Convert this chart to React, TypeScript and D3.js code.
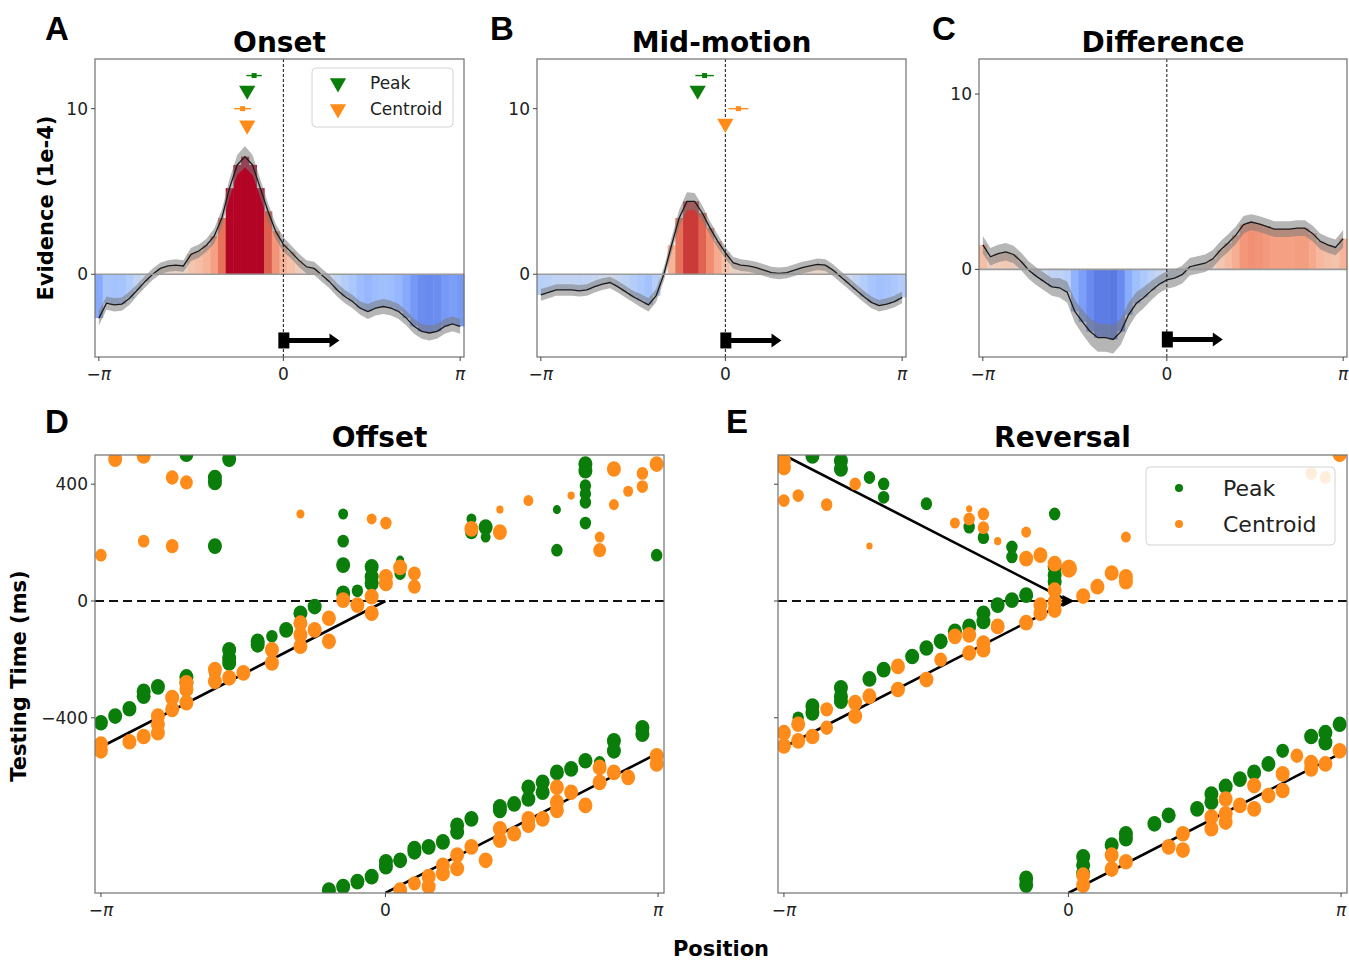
import * as d3 from 'd3';
import * as React from 'react';
import { useEffect, useRef } from 'react';

const W = 1349;
const H = 960;

// x axis is 48 position bins, ticks at -pi / 0 / pi
const tickBins = [0, 24, 47];
const tickNames = ['-', '0', '+'];

// evidence (1e-4) per position bin
const onsetValues = [-2.65, -1.75, -1.85, -1.8, -1.45, -0.95, -0.45, 0.0, 0.35, 0.5, 0.55, 0.5, 1.2, 1.4, 1.75, 2.3,
  3.4, 5.2, 6.6, 7.1, 6.6, 5.2, 3.8, 2.6, 1.8, 1.35, 0.85, 0.45, 0.35, -0.05, -0.45, -0.95,
  -1.35, -1.65, -2.05, -2.25, -2.05, -1.95, -2.05, -2.25, -2.65, -3.15, -3.45, -3.55, -3.45, -3.15, -3.0, -3.15];
const onsetSE = [0.45, 0.4, 0.4, 0.4, 0.4, 0.35, 0.35, 0.35, 0.35, 0.35, 0.35, 0.35, 0.4, 0.4, 0.4, 0.45,
  0.5, 0.55, 0.6, 0.65, 0.6, 0.55, 0.5, 0.45, 0.45, 0.4, 0.4, 0.4, 0.4, 0.4, 0.4, 0.4,
  0.4, 0.4, 0.4, 0.45, 0.45, 0.45, 0.45, 0.45, 0.45, 0.45, 0.45, 0.45, 0.45, 0.45, 0.45, 0.45];

const midValues = [-1.25, -1.1, -0.95, -0.95, -0.95, -1.0, -0.95, -0.75, -0.6, -0.5, -0.75, -1.05, -1.35, -1.6, -1.85, -1.3,
  0.0, 1.75, 3.4, 4.4, 4.4, 3.7, 2.8, 2.0, 1.3, 0.7, 0.55, 0.5, 0.4, 0.25, 0.1, 0.05,
  0.1, 0.25, 0.4, 0.5, 0.6, 0.55, 0.25, -0.15, -0.55, -0.95, -1.35, -1.7, -1.9, -1.8, -1.65, -1.4];
const midSE = [0.35, 0.35, 0.35, 0.35, 0.35, 0.35, 0.35, 0.35, 0.35, 0.35, 0.35, 0.35, 0.35, 0.4, 0.4, 0.4,
  0.4, 0.45, 0.5, 0.55, 0.5, 0.45, 0.4, 0.4, 0.35, 0.35, 0.35, 0.35, 0.35, 0.35, 0.35, 0.35,
  0.35, 0.35, 0.35, 0.35, 0.35, 0.35, 0.35, 0.35, 0.35, 0.35, 0.35, 0.35, 0.35, 0.35, 0.35, 0.35];

const diffValues = [1.4, 0.72, 0.9, 1.0, 0.85, 0.45, -0.05, -0.4, -0.7, -1.0, -1.05, -1.3, -2.4, -3.0, -3.55, -3.9,
  -3.9, -4.0, -3.55, -2.6, -1.95, -1.6, -1.2, -0.85, -0.6, -0.5, -0.3, 0.15, 0.25, 0.35, 0.6, 1.1,
  1.5, 1.95, 2.55, 2.7, 2.6, 2.45, 2.3, 2.3, 2.3, 2.35, 2.35, 2.05, 1.6, 1.4, 1.25, 1.75];
const diffSE = [0.5, 0.5, 0.5, 0.5, 0.5, 0.5, 0.5, 0.5, 0.5, 0.5, 0.55, 0.6, 0.65, 0.7, 0.75, 0.8,
  0.8, 0.8, 0.75, 0.7, 0.65, 0.6, 0.55, 0.5, 0.5, 0.5, 0.5, 0.5, 0.5, 0.5, 0.5, 0.5,
  0.5, 0.5, 0.5, 0.45, 0.45, 0.45, 0.45, 0.45, 0.45, 0.45, 0.45, 0.45, 0.45, 0.45, 0.45, 0.5];

// summary markers: [triangle bin, triangle level, point bin, point level, error half-width]
const onsetPeakMark = [19.3, 11.1, 20.2, 12.0, 1.0];
const onsetCentroidMark = [19.3, 9.0, 18.7, 10.0, 1.1];
const midPeakMark = [20.4, 11.1, 21.3, 12.0, 1.2];
const midCentroidMark = [24.0, 9.1, 25.7, 10.0, 1.3];

// scatter: [column (40 positions, -pi..pi), testing time ms, size]
const offsetPeak = [
  [0, -417, 3], [1, -394, 3], [2, -369, 3], [3, -326, 3], [3, -309, 3], [4, -294, 3], [6, -260, 3], [6, -280, 3],
  [6, 503, 3], [8, -248, 2], [8, 423, 3], [8, 406, 3], [8, 188, 3], [9, -167, 3], [9, -195, 3], [9, -212, 3],
  [9, 486, 3], [11, -138, 3], [11, -150, 3], [12, -121, 2], [13, -99, 3], [14, -42, 3], [15, -19, 3],
  [17, 26, 3], [17, 123, 3], [17, 205, 2], [17, 298, 1.5], [18, 35, 2], [19, 60, 3], [19, 83, 3], [19, 117, 3],
  [21, 140, 1], [21, 94, 2], [26, 281, 1.5], [26, 236, 2.5], [27, 253, 3], [27, 219, 1.5], [32, 313, 1],
  [32, 174, 2], [34, 469, 3], [34, 446, 3], [34, 395, 2], [34, 367, 2], [34, 338, 2], [34, 267, 2], [39, 157, 2],
  [16, -990, 3], [17, -978, 3], [18, -961, 3], [19, -944, 3], [20, -910, 3], [20, -893, 3], [21, -888, 3],
  [22, -859, 3], [22, -848, 3], [23, -842, 3], [24, -825, 3], [25, -768, 3], [25, -791, 3], [26, -746, 3],
  [28, -717, 3], [28, -705, 3], [29, -695, 3], [30, -678, 3], [30, -638, 3], [31, -621, 3], [31, -655, 3],
  [32, -587, 3], [33, -575, 3], [34, -547, 3], [35, -553, 2], [36, -479, 3], [36, -513, 3], [38, -434, 3], [38, -456, 3],
];
const offsetCentroid = [
  [0, -490, 3], [0, -513, 3], [0, 157, 2], [1, 486, 3], [2, -482, 3], [3, -464, 3], [3, 497, 3], [3, 205, 2],
  [4, -394, 3], [4, -422, 3], [4, -451, 3], [5, -371, 3], [5, -331, 3], [5, 423, 2.5], [5, 188, 2.5],
  [6, -280, 3], [6, -303, 3], [6, -348, 3], [6, 406, 2.5], [8, -235, 3], [8, -275, 3], [9, -263, 3], [10, -246, 3],
  [12, -167, 3], [12, -212, 3], [14, -76, 3], [14, -116, 3], [14, -155, 3], [14, 298, 1], [15, -99, 3],
  [16, -59, 3], [16, -138, 3], [17, 3, 3], [18, -14, 3], [19, 15, 3], [19, -42, 3], [19, 281, 1.5],
  [20, 60, 3], [20, 83, 3], [20, 267, 2], [21, 115, 3], [22, 94, 2.5], [22, 49, 2.5],
  [26, 247, 3], [28, 236, 3], [28, 313, 0.8], [30, 344, 1.5], [33, 361, 0.8], [35, 219, 1.5], [35, 174, 2.5],
  [36, 452, 3], [36, 330, 1.5], [37, 376, 1.5], [38, 437, 2], [38, 392, 2], [39, 469, 3],
  [21, -990, 3], [22, -967, 2.5], [23, -944, 3], [23, -978, 3], [24, -905, 3], [24, -933, 3], [25, -870, 3],
  [25, -916, 3], [26, -842, 3], [27, -888, 3], [28, -780, 3], [28, -819, 3], [29, -797, 3], [30, -746, 3],
  [30, -768, 3], [31, -746, 3], [32, -638, 3], [32, -689, 3], [32, -717, 3], [33, -655, 3], [34, -700, 3],
  [35, -570, 3], [35, -621, 3], [36, -587, 3], [37, -604, 3], [39, -530, 3], [39, -558, 3],
];
const reversalPeak = [
  [1, -400, 2], [2, -360, 3], [2, -383, 3], [2, 497, 3], [4, -297, 3], [4, -326, 3], [4, -343, 3], [4, 480, 3],
  [4, 452, 3], [6, -267, 3], [6, 423, 2], [7, -235, 3], [7, 401, 2], [7, 355, 2], [9, -190, 3], [10, -161, 3],
  [10, 333, 2], [11, -138, 3], [12, -104, 3], [13, -87, 3], [13, 253, 2], [14, -42, 3], [14, -70, 3], [14, 217, 2],
  [15, -14, 3], [16, 3, 3], [16, 185, 2], [16, 151, 2], [17, 20, 3], [19, 117, 3], [19, 89, 3], [19, 66, 3],
  [19, 298, 2],
  [17, -950, 3], [17, -973, 3], [21, -876, 3], [21, -905, 3], [21, -933, 3], [23, -836, 3], [24, -797, 3],
  [24, -814, 3], [26, -763, 3], [27, -734, 3], [29, -712, 3], [30, -661, 3], [30, -689, 3], [31, -635, 3],
  [32, -610, 3], [33, -587, 3], [34, -558, 3], [35, -513, 2.5], [37, -464, 3], [38, -451, 3], [38, -485, 3], [39, -422, 3],
];
const reversalCentroid = [
  [0, -451, 3], [0, -496, 3], [0, 480, 3], [0, 457, 3], [0, 344, 2], [1, -422, 3], [1, -479, 3], [1, 361, 2],
  [2, -464, 3], [3, -371, 2.5], [3, -434, 2.5], [3, 330, 2], [5, -348, 3], [5, -394, 3], [5, 401, 2],
  [6, -326, 3], [6, 188, 0.6], [8, -224, 3], [8, -303, 3], [10, -269, 3], [11, -201, 2.5], [12, -121, 3],
  [12, 267, 1.5], [13, -116, 3], [13, -178, 3], [13, 281, 2], [13, 316, 0.6], [14, -144, 3], [14, -167, 3],
  [14, 298, 2], [14, 251, 2], [15, -87, 3], [15, 205, 0.8], [17, -74, 3], [17, 236, 1.5], [17, 145, 3],
  [18, -14, 3], [18, -42, 3], [18, 157, 3], [19, 37, 3], [19, -2, 3], [19, -31, 3], [19, 128, 3], [20, 111, 4],
  [21, 17, 3], [22, 49, 3], [23, 96, 3], [24, 83, 3], [24, 66, 3], [24, 219, 1.5], [37, 437, 2], [38, 423, 2],
  [39, 503, 3],
  [21, -939, 3], [21, -973, 3], [23, -870, 3], [23, -918, 3], [24, -893, 3], [27, -842, 3], [28, -797, 3],
  [28, -853, 3], [30, -740, 3], [30, -780, 3], [31, -678, 3], [31, -729, 3], [31, -757, 3], [32, -700, 3],
  [33, -632, 3], [33, -712, 3], [34, -666, 3], [35, -592, 3], [35, -649, 3], [36, -530, 2.5], [37, -553, 3],
  [37, -575, 3], [38, -558, 3], [39, -513, 3],
];

// expected position lines: [[bin, ms], [bin, ms]]
const offsetLines = [[[0, -500], [24, 0]], [[24, -1000], [47, -521]]];
const reversalLines = [[[0, 500], [24, 0]], [[0, -500], [24, 0]], [[24, -1000], [47, -521]]];

const GREEN = '#0a7d0a';
const ORANGE = '#ff8c1a';
const FONT = 'DejaVu Sans, sans-serif';

const coolwarm = d3.interpolateRgbBasis(['#3b4cc0', '#4d68d7', '#6282ea', '#779af7', '#8db0fe', '#a3c2fe', '#b8d0f9',
  '#cbd8ee', '#dddddd', '#ecd3c5', '#f5c4ac', '#f7b194', '#f4987a', '#ec7f63', '#de614d', '#cc403a', '#b40426']);

const colToBin = (c: number) => c * 47 / 39.1;

function tickLabel(sel: any, name: string) {
  if (name === '0') { sel.text('0'); return; }
  if (name === '-') sel.append('tspan').text('\u2212');
  sel.append('tspan').attr('font-style', 'italic').text('\u03c0');
}

function drawFrame(g: any, x: any, y: any, box: any, yTicks: number[], yLabels: boolean, fs: number) {
  g.append('rect').attr('x', box.left).attr('y', box.top).attr('width', box.right - box.left)
    .attr('height', box.bottom - box.top).attr('fill', 'none').attr('stroke', '#707070').attr('stroke-width', 1.2);
  tickBins.forEach((b, i) => {
    g.append('line').attr('x1', x(b)).attr('x2', x(b)).attr('y1', box.bottom).attr('y2', box.bottom + 4)
      .attr('stroke', '#444');
    const t = g.append('text').attr('x', x(b)).attr('y', box.bottom + 23).attr('text-anchor', 'middle')
      .attr('font-family', FONT).attr('font-size', fs).attr('fill', '#222');
    tickLabel(t, tickNames[i]);
  });
  yTicks.forEach((v) => {
    g.append('line').attr('x1', box.left - 4).attr('x2', box.left).attr('y1', y(v)).attr('y2', y(v)).attr('stroke', '#444');
    if (yLabels) {
      g.append('text').attr('x', box.left - 7).attr('y', y(v)).attr('dy', '0.36em').attr('text-anchor', 'end')
        .attr('font-family', FONT).attr('font-size', fs).attr('fill', '#222')
        .text(v < 0 ? '\u2212' + Math.abs(v) : String(v));
    }
  });
}

function drawEvidence(svg: any, p: any) {
  const box = p.box;
  const x = d3.scaleLinear().domain([-0.5, 47.5]).range([box.left, box.right]);
  const y = d3.scaleLinear().domain(p.yDomain).range([box.bottom, box.top]);
  const g = svg.append('g');
  const vals: number[] = p.values;
  const se: number[] = p.se;

  g.selectAll('rect.bin').data(vals).enter().append('rect')
    .attr('x', (d: number, i: number) => x(i - 0.5))
    .attr('width', x(1) - x(0) + 0.5)
    .attr('y', (d: number) => y(Math.max(0, d)))
    .attr('height', (d: number) => Math.abs(y(d) - y(0)))
    .attr('fill', (d: number) => coolwarm(Math.max(0, Math.min(1, (d / 5 + 1) / 2))));

  const band = d3.area<number>()
    .x((d, i) => x(i)).y0((d, i) => y(d - se[i])).y1((d, i) => y(d + se[i]));
  g.append('path').datum(vals).attr('d', band).attr('fill', '#7a7a7a').attr('fill-opacity', 0.55);
  const line = d3.line<number>().x((d, i) => x(i)).y((d) => y(d));
  g.append('path').datum(vals).attr('d', line).attr('fill', 'none').attr('stroke', '#1a1a1a').attr('stroke-width', 1.3);

  g.append('line').attr('x1', box.left).attr('x2', box.right).attr('y1', y(0)).attr('y2', y(0))
    .attr('stroke', '#9a9a9a').attr('stroke-width', 1.6);
  g.append('line').attr('x1', x(24)).attr('x2', x(24)).attr('y1', box.top).attr('y2', box.bottom)
    .attr('stroke', '#111').attr('stroke-width', 1).attr('stroke-dasharray', '3,2');

  // motion direction arrow
  const ay = y(-4);
  g.append('rect').attr('x', x(24) - 5).attr('y', ay - 8).attr('width', 11).attr('height', 16).attr('fill', '#000');
  g.append('line').attr('x1', x(24)).attr('x2', x(30.2)).attr('y1', ay).attr('y2', ay)
    .attr('stroke', '#000').attr('stroke-width', 5);
  g.append('path').attr('d', `M${x(30)},${ay - 7}L${x(31.3)},${ay}L${x(30)},${ay + 7}Z`).attr('fill', '#000');

  (p.marks || []).forEach((m: number[], k: number) => {
    const c = k === 0 ? GREEN : ORANGE;
    const [tb, tl, pb, pl, e] = m;
    g.append('path').attr('d', d3.symbol().type(d3.symbolTriangle).size(115)())
      .attr('transform', `translate(${x(tb)},${y(tl)}) rotate(180)`).attr('fill', c);
    g.append('line').attr('x1', x(pb - e)).attr('x2', x(pb + e)).attr('y1', y(pl)).attr('y2', y(pl))
      .attr('stroke', c).attr('stroke-width', 1.4);
    g.append('rect').attr('x', x(pb) - 2.5).attr('y', y(pl) - 2.5).attr('width', 5).attr('height', 5).attr('fill', c);
  });

  drawFrame(g, x, y, box, p.yTicks, true, 17);

  g.append('text').attr('x', (box.left + box.right) / 2).attr('y', box.top - 7).attr('text-anchor', 'middle')
    .attr('font-family', FONT).attr('font-weight', 'bold').attr('font-size', 28).text(p.title);

  if (p.legend) {
    const lx = box.right - 152;
    const ly = box.top + 9;
    g.append('rect').attr('x', lx).attr('y', ly).attr('width', 141).attr('height', 59).attr('rx', 4)
      .attr('fill', '#fff').attr('fill-opacity', 0.85).attr('stroke', '#d4d4d4');
    ['Peak', 'Centroid'].forEach((name, k) => {
      const yy = ly + 15 + k * 26;
      g.append('path').attr('d', d3.symbol().type(d3.symbolTriangle).size(115)())
        .attr('transform', `translate(${lx + 26},${yy}) rotate(180)`).attr('fill', k === 0 ? GREEN : ORANGE);
      g.append('text').attr('x', lx + 58).attr('y', yy).attr('dy', '0.36em').attr('font-family', FONT)
        .attr('font-size', 17).attr('fill', '#222').text(name);
    });
  }
}

function drawScatter(svg: any, p: any) {
  const box = p.box;
  const x = d3.scaleLinear().domain([-0.5, 47.5]).range([box.left, box.right]);
  const y = d3.scaleLinear().domain([-1000, 500]).range([box.bottom, box.top]);
  const r = d3.scaleSqrt().domain([0, 3]).range([0, 7]);
  const g = svg.append('g');
  const clipId = 'clip-' + p.id;
  g.append('clipPath').attr('id', clipId).append('rect').attr('x', box.left).attr('y', box.top)
    .attr('width', box.right - box.left).attr('height', box.bottom - box.top);
  const inner = g.append('g').attr('clip-path', `url(#${clipId})`);

  inner.append('line').attr('x1', box.left).attr('x2', box.right).attr('y1', y(0)).attr('y2', y(0))
    .attr('stroke', '#111').attr('stroke-width', 2).attr('stroke-dasharray', '9,5');
  p.lines.forEach((seg: number[][]) => {
    inner.append('line').attr('x1', x(seg[0][0])).attr('y1', y(seg[0][1])).attr('x2', x(seg[1][0]))
      .attr('y2', y(seg[1][1])).attr('stroke', '#000').attr('stroke-width', 2.6);
  });
  if (p.arrow) {
    const ax = x(24) + 2;
    const ay = y(0);
    inner.append('path').attr('d', `M${ax - 8},${ay - 6}L${ax + 4},${ay}L${ax - 8},${ay + 6}Z`).attr('fill', '#000');
  }

  [[p.peak, GREEN], [p.centroid, ORANGE]].forEach(([pts, c]: any) => {
    inner.selectAll(null).data(pts).enter().append('ellipse')
      .attr('cx', (d: number[]) => x(colToBin(d[0])))
      .attr('cy', (d: number[]) => y(d[1]))
      .attr('rx', (d: number[]) => r(d[2]))
      .attr('ry', (d: number[]) => r(d[2]) * 1.12)
      .attr('fill', c);
  });

  drawFrame(g, x, y, box, [400, 0, -400], p.yLabels, 17);

  g.append('text').attr('x', (box.left + box.right) / 2).attr('y', box.top - 8).attr('text-anchor', 'middle')
    .attr('font-family', FONT).attr('font-weight', 'bold').attr('font-size', 28).text(p.title);

  if (p.legend) {
    const lx = box.right - 201;
    const ly = box.top + 12;
    g.append('rect').attr('x', lx).attr('y', ly).attr('width', 189).attr('height', 78).attr('rx', 4)
      .attr('fill', '#fff').attr('fill-opacity', 0.85).attr('stroke', '#d4d4d4');
    ['Peak', 'Centroid'].forEach((name, k) => {
      const yy = ly + 21 + k * 36;
      g.append('circle').attr('cx', lx + 33).attr('cy', yy).attr('r', 4).attr('fill', k === 0 ? GREEN : ORANGE);
      g.append('text').attr('x', lx + 77).attr('y', yy).attr('dy', '0.36em').attr('font-family', FONT)
        .attr('font-size', 22).attr('fill', '#222').text(name);
    });
  }
}

export default function App() {
  const ref = useRef<SVGSVGElement | null>(null);

  useEffect(() => {
    if (!ref.current) return;
    const svg = d3.select(ref.current);
    svg.selectAll('*').remove();
    svg.append('rect').attr('width', W).attr('height', H).attr('fill', '#fff');

    drawEvidence(svg, {
      box: { left: 95, right: 464, top: 59, bottom: 357 }, yDomain: [-5, 13], yTicks: [0, 10],
      values: onsetValues, se: onsetSE, title: 'Onset', marks: [onsetPeakMark, onsetCentroidMark], legend: true,
    });
    drawEvidence(svg, {
      box: { left: 537, right: 906, top: 59, bottom: 357 }, yDomain: [-5, 13], yTicks: [0, 10],
      values: midValues, se: midSE, title: 'Mid-motion', marks: [midPeakMark, midCentroidMark],
    });
    drawEvidence(svg, {
      box: { left: 979, right: 1347, top: 59, bottom: 357 }, yDomain: [-5, 12], yTicks: [0, 10],
      values: diffValues, se: diffSE, title: 'Difference',
    });
    drawScatter(svg, {
      id: 'offset', box: { left: 95, right: 664, top: 455, bottom: 893 }, title: 'Offset',
      peak: offsetPeak, centroid: offsetCentroid, lines: offsetLines, yLabels: true,
    });
    drawScatter(svg, {
      id: 'reversal', box: { left: 778, right: 1347, top: 455, bottom: 893 }, title: 'Reversal',
      peak: reversalPeak, centroid: reversalCentroid, lines: reversalLines, yLabels: false, legend: true, arrow: true,
    });

    const letters: [string, number, number][] = [['A', 45, 40], ['B', 490, 40], ['C', 932, 40], ['D', 45, 433], ['E', 726, 433]];
    letters.forEach(([t, lx, ly]) => {
      svg.append('text').attr('x', lx).attr('y', ly).attr('font-family', 'Liberation Sans, Arial, sans-serif')
        .attr('font-weight', 'bold').attr('font-size', 33).text(t);
    });

    svg.append('text').attr('transform', 'translate(53,208) rotate(-90)').attr('text-anchor', 'middle')
      .attr('font-family', FONT).attr('font-weight', 'bold').attr('font-size', 21).text('Evidence (1e-4)');
    svg.append('text').attr('transform', 'translate(26,676) rotate(-90)').attr('text-anchor', 'middle')
      .attr('font-family', FONT).attr('font-weight', 'bold').attr('font-size', 21).text('Testing Time (ms)');
    svg.append('text').attr('x', 721).attr('y', 956).attr('text-anchor', 'middle')
      .attr('font-family', FONT).attr('font-weight', 'bold').attr('font-size', 21).text('Position');
  }, []);

  return (
    <svg ref={ref} width={W} height={H} style={{ position: 'absolute', left: 0, top: 0 }} />
  );
}
